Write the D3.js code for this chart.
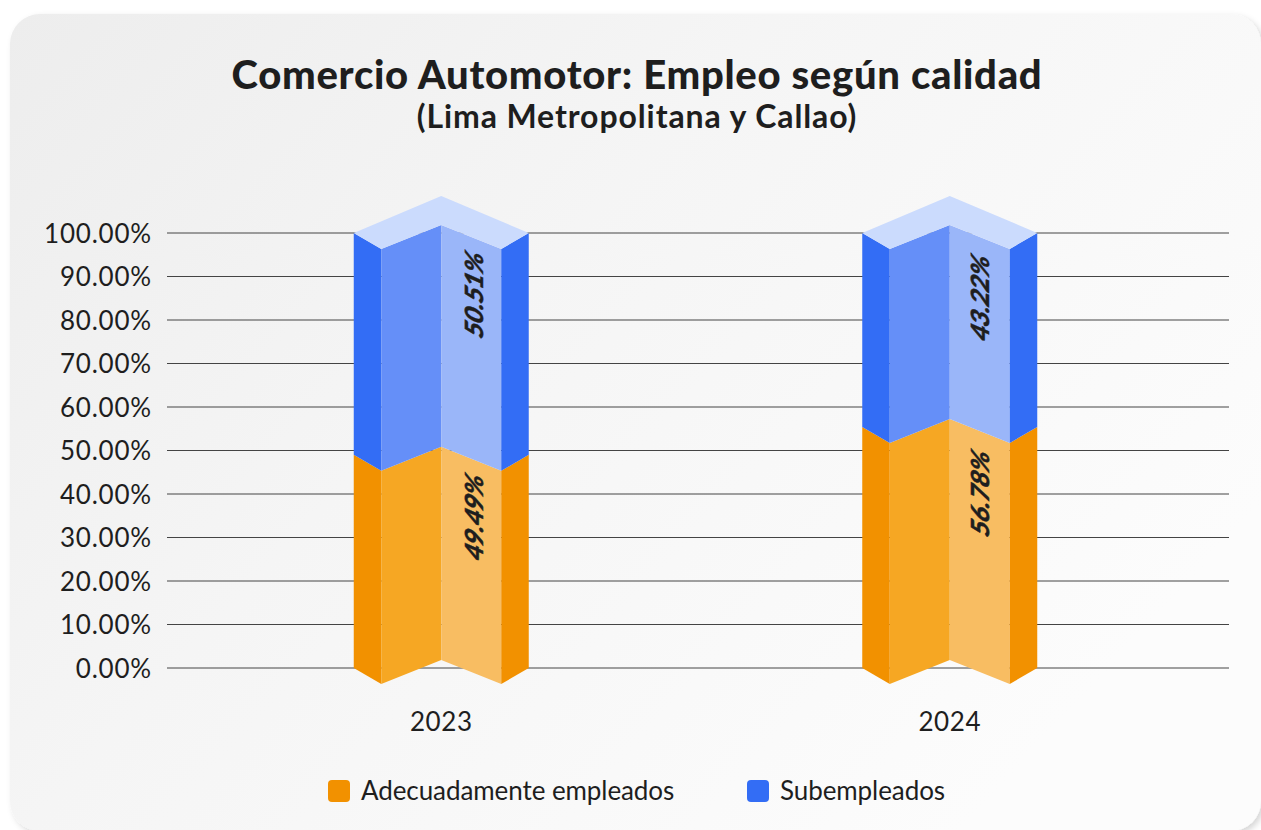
<!DOCTYPE html>
<html>
<head>
<meta charset="utf-8" />
<title>Comercio Automotor</title>
<script src="https://cdn.jsdelivr.net/npm/d3@7"></script>
<style>
  html, body { margin: 0; padding: 0; background: #fff; overflow: hidden; }
  text { font-family: Lato, "Open Sans", sans-serif; fill: #1e1e1e; }
</style>
</head>
<body>
<script>
var years = ['2023', '2024'];
// height of the orange part as drawn in the picture (it differs a little from the printed label)
var adecuados = [49.0, 55.4];
var total = [100, 100];
var adecuadosLabels = ['49.49%', '56.78%'];
var subempleadosLabels = ['50.51%', '43.22%'];
var yTicks = [0, 10, 20, 30, 40, 50, 60, 70, 80, 90, 100];
var legendNames = ['Adecuadamente empleados', 'Subempleados'];

var width = 1261, height = 830;
var svg = d3.select('body').append('svg').attr('width', width).attr('height', height);

// card background
var defs = svg.append('defs');
var grad = defs.append('linearGradient').attr('id', 'cardBg')
  .attr('x1', '0%').attr('y1', '0%').attr('x2', '100%').attr('y2', '60%');
grad.append('stop').attr('offset', '0%').attr('stop-color', '#ededed');
grad.append('stop').attr('offset', '45%').attr('stop-color', '#f5f5f5');
grad.append('stop').attr('offset', '100%').attr('stop-color', '#fcfcfc');
defs.append('filter').attr('id', 'cardShadow')
  .attr('x', '-5%').attr('y', '-5%').attr('width', '110%').attr('height', '110%')
  .append('feDropShadow').attr('dx', 3).attr('dy', 3).attr('stdDeviation', 3)
  .attr('flood-color', '#000').attr('flood-opacity', 0.16);
svg.append('rect').attr('width', width).attr('height', height).attr('fill', '#ffffff');
svg.append('rect').attr('x', 10).attr('y', 14).attr('width', 1251).attr('height', 817)
  .attr('rx', 30).attr('fill', 'url(#cardBg)').attr('filter', 'url(#cardShadow)');

// titles
svg.append('text').attr('x', 637).attr('y', 89).attr('text-anchor', 'middle')
  .attr('font-size', 40).attr('font-weight', 900).attr('letter-spacing', 0.7)
  .text('Comercio Automotor: Empleo según calidad');
svg.append('text').attr('x', 637).attr('y', 127.5).attr('text-anchor', 'middle')
  .attr('font-size', 32).attr('font-weight', 700).attr('letter-spacing', 0.9)
  .text('(Lima Metropolitana y Callao)');

// scales
var x = d3.scaleBand().domain(years).range([187, 1204]).paddingInner(0).paddingOuter(0);
var y = d3.scaleLinear().domain([0, 100]).range([668, 233]);

// axes
var yAxis = d3.axisLeft(y).tickValues(yTicks).tickSize(0).tickPadding(15)
  .tickFormat(function (d) { return d3.format('.2f')(d) + '%'; });
var gy = svg.append('g').attr('transform', 'translate(167,0)').call(yAxis);
gy.select('.domain').remove();
gy.selectAll('text').attr('font-size', 26).attr('letter-spacing', 0.8).attr('dy', '0.36em').style('font-family', 'Lato');

svg.append('g').selectAll('line').data(yTicks).enter().append('line')
  .attr('x1', 167).attr('x2', 1229)
  .attr('y1', function (d) { return y(d); }).attr('y2', function (d) { return y(d); })
  .attr('stroke', '#444').attr('stroke-width', 1);

var xAxis = d3.axisBottom(x).tickSize(0).tickPadding(30);
var gx = svg.append('g').attr('transform', 'translate(0,' + 691 + ')').call(xAxis);
gx.select('.domain').remove();
gx.selectAll('text').attr('font-size', 26).attr('letter-spacing', 0.6).attr('dy', '0').attr('y', 40).style('font-family', 'Lato');

// folded column shape, offsets in px from the value line
var sideW = 87.5, innerW = 60;
var dips = { edge: 0, fold: 16, mid: -8 };

function bandPoints(cx, v0, v1) {
  var a = y(v0), b = y(v1);
  return {
    leftSide: [[cx - sideW, a], [cx - innerW, a + dips.fold], [cx - innerW, b + dips.fold], [cx - sideW, b]],
    leftFace: [[cx - innerW, a + dips.fold], [cx, a + dips.mid], [cx, b + dips.mid], [cx - innerW, b + dips.fold]],
    rightFace: [[cx, a + dips.mid], [cx + innerW, a + dips.fold], [cx + innerW, b + dips.fold], [cx, b + dips.mid]],
    rightSide: [[cx + innerW, a + dips.fold], [cx + sideW, a], [cx + sideW, b], [cx + innerW, b + dips.fold]]
  };
}
var orange = { leftSide: '#f29100', leftFace: '#f6a723', rightFace: '#f8bd62', rightSide: '#f29100' };
var blue = { leftSide: '#336df5', leftFace: '#658ff8', rightFace: '#9ab6f9', rightSide: '#336df5' };
var polyStr = function (pts) { return pts.map(function (p) { return p.join(','); }).join(' '); };

// label placement tweaks, px from the middle of each segment
var labelLift = { adecuados: [-41, -51], subempleados: [-46, -29] };
var labelDx = [42, 39];

var cols = svg.selectAll('g.col').data(years).enter().append('g').attr('class', 'col');

cols.each(function (d, i) {
  var g = d3.select(this);
  var cx = x(d) + x.bandwidth() / 2;
  var parts = [
    { pts: bandPoints(cx, 0, adecuados[i]), fill: orange },
    { pts: bandPoints(cx, adecuados[i], total[i]), fill: blue }
  ];
  parts.forEach(function (p) {
    ['leftSide', 'leftFace', 'rightFace', 'rightSide'].forEach(function (k) {
      g.append('polygon').attr('points', polyStr(p.pts[k])).attr('fill', p.fill[k]);
    });
  });
  // cap
  var t = y(total[i]);
  g.append('polygon').attr('fill', '#cbdbfd').attr('points', polyStr([
    [cx - sideW, t], [cx, t - 37], [cx + sideW, t], [cx + innerW, t + dips.fold], [cx, t + dips.mid], [cx - innerW, t + dips.fold]
  ]));

  // value labels lying on the right face
  var labels = [
    { txt: adecuadosLabels[i], cy: (y(0) + y(adecuados[i])) / 2 + labelLift.adecuados[i] },
    { txt: subempleadosLabels[i], cy: (y(adecuados[i]) + y(total[i])) / 2 + labelLift.subempleados[i] }
  ];
  labels.forEach(function (l) {
    g.append('text')
      .attr('transform', 'translate(' + (cx + labelDx[i]) + ',' + l.cy + ') rotate(-90) skewX(-24)')
      .attr('text-anchor', 'middle')
      .attr('font-size', 25).attr('font-weight', 900)
      .attr('stroke', '#1e1e1e').attr('stroke-width', 0.4).text(l.txt);
  });
});

// legend
var legendX = [328, 747];
var legendColors = ['#f29100', '#336df5'];
var leg = svg.selectAll('g.leg').data(legendNames).enter().append('g').attr('class', 'leg')
  .attr('transform', function (d, i) { return 'translate(' + legendX[i] + ',780)'; });
leg.append('rect').attr('width', 22).attr('height', 22).attr('rx', 4)
  .attr('fill', function (d, i) { return legendColors[i]; });
leg.append('text').attr('x', 33).attr('y', 19.5).attr('font-size', 26).attr('letter-spacing', -0.08)
  .text(function (d) { return d; });
</script>
</body>
</html>
